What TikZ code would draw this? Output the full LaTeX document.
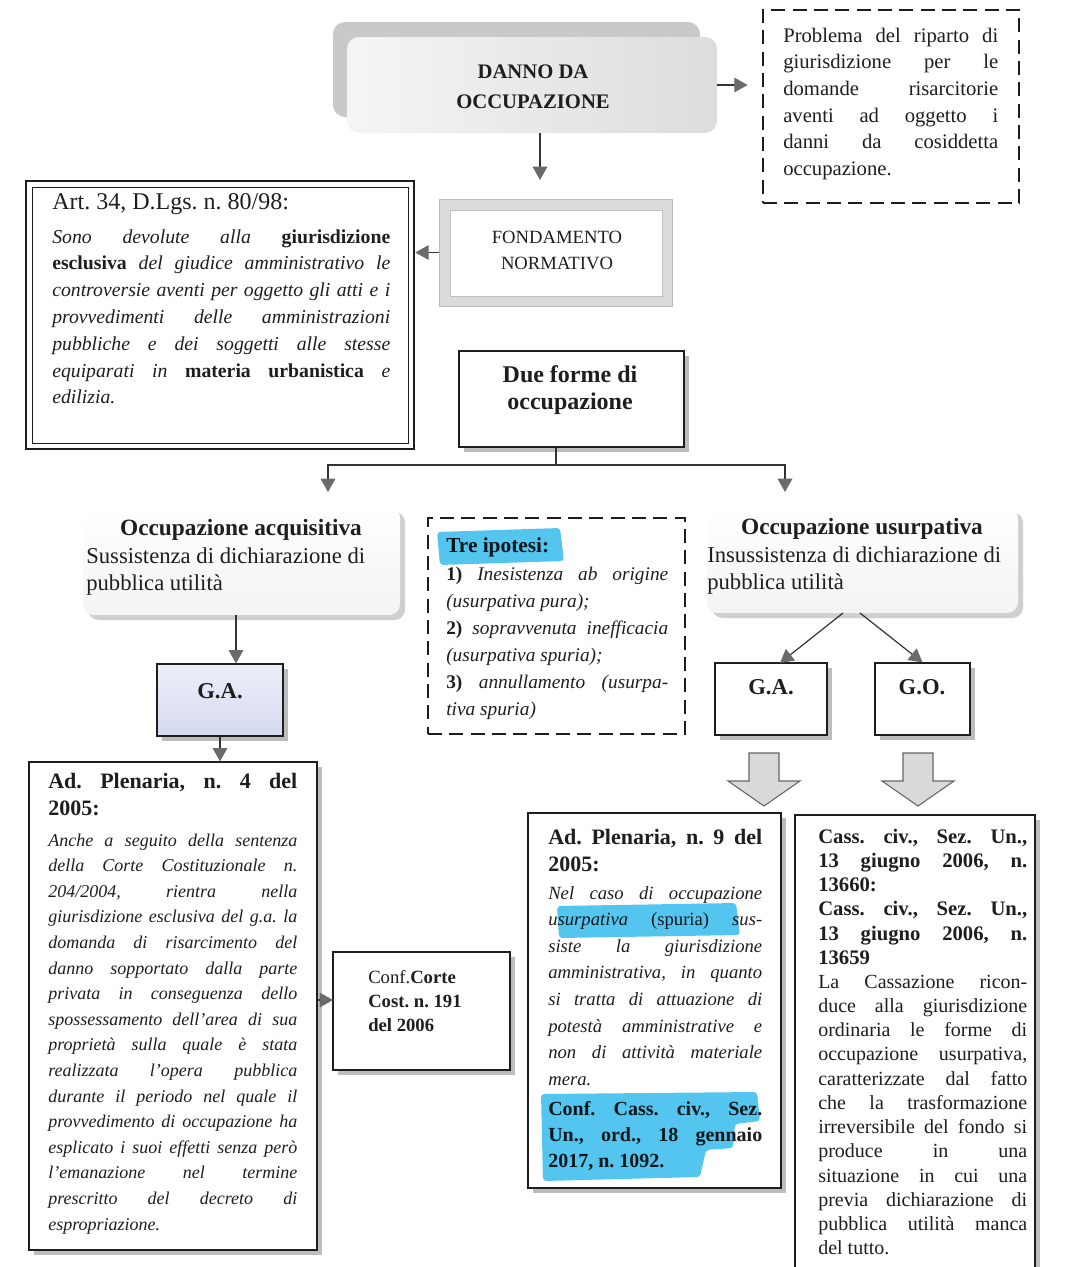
\documentclass[tikz,border=0pt]{standalone}
\usepackage{fontspec}
\setmainfont{Liberation Serif}
\usetikzlibrary{arrows.meta,fit,shadows,calc}

\definecolor{ink}{RGB}{30,30,30}
\definecolor{hl}{RGB}{84,197,238}
\definecolor{lav}{RGB}{214,218,240}

% one justified line / one natural (last) line of a text block
\newcommand\jline[1]{\hbox to\linewidth{\spaceskip=\fontdimen2\font plus 1fil minus \fontdimen4\font\relax#1}}
\newcommand\eline[1]{\hbox{#1}}
\newcommand\fs[2]{\fontsize{#1}{#2}\selectfont}
\newcommand\bu[1]{{\upshape\bfseries #1}}
\frenchspacing

\tikzset{
  conn/.style={draw=black!80, line width=0.9pt},
  arr/.style={conn, -{Triangle[width=11pt,length=10pt,color=black!58]}},
  frame/.style={inner sep=0pt},
  box/.style={frame, draw=ink, line width=0.9pt, fill=white},
  shadowed/.style={drop shadow={shadow xshift=3.5pt, shadow yshift=-3.5pt, fill=gray!52, opacity=1}},
  dashbox/.style={frame, draw=ink, line width=1.1pt, dash pattern=on 10.5pt off 5.5pt},
  softbox/.style={frame, rounded corners=8pt, top color=white, bottom color=gray!9, draw=none},
  softshadow/.style={frame, rounded corners=8pt, fill=gray!38, draw=none},
  txt/.style={anchor=base west, inner sep=0pt, text=ink},
  ctxt/.style={anchor=base, inner sep=0pt, text=ink},
  marker/.style={fill=hl, rounded corners=2.5pt},
  pics/blockdown/.style={code={
    \draw[fill=gray!30, draw=black!60, line width=0.8pt, line join=miter]
      (-15,0) -- (15,0) -- (15,28) -- (36,28) -- (0,53) -- (-36,28) -- (-15,28) -- cycle;}}
}

\begin{document}
\begin{tikzpicture}[x=0.75pt,y=-0.75pt]
\path[use as bounding box, fill=white] (0,0) rectangle (1071,1267);

% ---- title ----
\node[frame, fit={(333,22)(700,117)}, rounded corners=9pt, fill=gray!42] (dannoback) {};
\node[frame, fit={(347,37)(717,133)}, rounded corners=9pt, left color=gray!8, right color=gray!27] (danno) {};
\node[ctxt] (dannotxt) at (533,78) {\parbox[t]{200pt}{\centering\fs{15.5}{22.5}\bfseries DANNO DA\\OCCUPAZIONE}};

% ---- problem statement ----
\node[dashbox, fit={(763,10)(1019,203)}] (prob) {};
\node[txt] (probtxt) at (783,42) {\parbox[t]{161.25pt}{\fs{15.5}{20}%
  \jline{Problema del riparto di}%
  \jline{giurisdizione per le}%
  \jline{domande risarcitorie}%
  \jline{aventi ad oggetto i}%
  \jline{danni da cosiddetta}%
  \eline{occupazione.}}};
\draw[arr, shorten >=11pt] (danno.east) -- (danno.east -| prob.west);

% ---- legal basis ----
\coordinate (dn) at (540,180);
\draw[arr] (danno.south -| dn) -- (dn);
\node[frame, fit={(439,199)(672,306)}, fill=gray!28, draw=gray!55, line width=0.6pt] (fond) {};
\node[frame, fit={(450,210)(662,296)}, fill=white, draw=gray!50, line width=0.5pt] (fondin) {};
\node[ctxt] (fondtxt) at (557,243) {\parbox[t]{150pt}{\centering\fs{14}{19.5}FONDAMENTO\\NORMATIVO}};

\node[frame, fit={(26,181)(414,449)}, draw=ink, line width=2pt, fill=white] (art) {};
\node[frame, fit={(32,187)(408,443)}, draw=ink, line width=0.6pt] (artin) {};
\node[txt] (arthead) at (52,209) {\fs{18}{20}Art. 34, D.Lgs. n. 80/98:};
\node[txt] (arttxt) at (52,243) {\parbox[t]{253.5pt}{\fs{14.8}{20.1}\itshape
  \jline{Sono devolute alla \bu{giurisdizione}}%
  \jline{\bu{esclusiva} del giudice amministrativo le}%
  \jline{controversie aventi per oggetto gli atti e i}%
  \jline{provvedimenti delle amministrazioni}%
  \jline{pubbliche e dei soggetti alle stesse}%
  \jline{equiparati in \bu{materia urbanistica} e}%
  \eline{edilizia.}}};
\draw[arr] (fond.west) -- (fond.west -| art.east);

% ---- two forms ----
\node[box, shadowed, fit={(459,351)(684,447)}] (due) {};
\node[ctxt] (duetxt) at (570,382) {\parbox[t]{160pt}{\centering\fs{18}{20.25}\bfseries Due forme di\\occupazione}};
\coordinate (split) at (556,465);
\coordinate (lt) at (328,492);
\coordinate (rt) at (785,492);
\draw[conn] (due.south -| split) -- (split);
\draw[arr] (split) -| (lt);
\draw[arr] (split) -| (rt);

% ---- acquisitive occupation ----
\node[softshadow, fit={(88,512)(405,620)}] (acqsh) {};
\node[softbox, fit={(83,507)(400,615)}] (acq) {};
\node[ctxt] (acqhead) at (241,535) {\fs{17.5}{20}\bfseries Occupazione acquisitiva};
\node[txt] (acqtxt) at (86,563) {\parbox[t]{300pt}{\fs{17}{20.25}%
  \eline{Sussistenza di dichiarazione di}%
  \eline{pubblica utilità}}};

\node[frame, shadowed, draw=ink, line width=0.9pt, top color=lav!45, bottom color=lav, fit={(157,664)(283,736)}] (gal) {};
\node[ctxt] (galtxt) at (220,698) {\fs{17}{20}\bfseries G.A.};
\coordinate (acqout) at (236,615);
\draw[arr] (acqout) -- (acqout |- gal.north);

\node[box, shadowed, fit={(29,762)(317,1250)}] (adp4) {};
\draw[arr] (gal.south) -- (gal.south |- adp4.north);
\node[txt] (adp4head) at (48,788) {\parbox[t]{186.75pt}{\fs{16.5}{20.25}\bfseries
  \jline{Ad. Plenaria, n. 4 del}%
  \eline{2005:}}};
\node[txt] (adp4txt) at (48,846) {\parbox[t]{186.75pt}{\fs{13.5}{19.2}\itshape
  \jline{Anche a seguito della sentenza}%
  \jline{della Corte Costituzionale n.}%
  \jline{204/2004, rientra nella}%
  \jline{giurisdizione esclusiva del g.a. la}%
  \jline{domanda di risarcimento del}%
  \jline{danno sopportato dalla parte}%
  \jline{privata in conseguenza dello}%
  \jline{spossessamento dell’area di sua}%
  \jline{proprietà sulla quale è stata}%
  \jline{realizzata l’opera pubblica}%
  \jline{durante il periodo nel quale il}%
  \jline{provvedimento di occupazione ha}%
  \jline{esplicato i suoi effetti senza però}%
  \jline{l’emanazione nel termine}%
  \jline{prescritto del decreto di}%
  \eline{espropriazione.}}};

\node[box, shadowed, fit={(333,952)(510,1070)}] (conf) {};
\node[txt] (conftxt) at (368,983) {\parbox[t]{110pt}{\fs{14}{18}%
  \eline{Conf.\textbf{Corte}}%
  \eline{\textbf{Cost. n. 191}}%
  \eline{\textbf{del 2006}}}};
\coordinate (cf) at (333,1000);
\draw[arr] (adp4.east |- cf) -- (cf);

% ---- three hypotheses ----
\node[dashbox, fit={(428,518)(685,734)}] (tre) {};
\node[txt] (trehead) at (446,552) {\fs{16}{20}\bfseries Tre ipotesi:};
\node[txt] (tretxt) at (446,580) {\parbox[t]{166.5pt}{\fs{14.5}{20.25}%
  \jline{\textbf{1)} \textit{Inesistenza ab origine}}%
  \eline{\textit{(usurpativa pura);}}%
  \jline{\textbf{2)} \textit{sopravvenuta inefficacia}}%
  \eline{\textit{(usurpativa spuria);}}%
  \jline{\textbf{3)} \textit{annullamento (usurpa-}}%
  \eline{\textit{tiva spuria)}}}};

% ---- usurpative occupation ----
\node[softshadow, fit={(712,512)(1023,618)}] (ussh) {};
\node[softbox, fit={(707,507)(1018,613)}] (us) {};
\node[ctxt] (ushead) at (862,534) {\fs{17.5}{20}\bfseries Occupazione usurpativa};
\node[txt] (ustxt) at (707,562) {\parbox[t]{300pt}{\fs{17}{20.25}%
  \eline{Insussistenza di dichiarazione di}%
  \eline{pubblica utilità}}};

\node[box, shadowed, fit={(715,663)(827,735)}] (gar) {};
\node[ctxt] (gartxt) at (771,694) {\fs{17}{20}\bfseries G.A.};
\node[box, shadowed, fit={(875,663)(970,735)}] (gor) {};
\node[ctxt] (gortxt) at (922,694) {\fs{17}{20}\bfseries G.O.};
\coordinate (us1) at (843,613);
\coordinate (us2) at (860,613);
\coordinate (garin) at (780,663);
\draw[arr] (us1) -- (garin);
\draw[arr] (us2) -- (gor.north);

\pic at (764,753) {blockdown};
\pic at (918,753) {blockdown};

\node[box, shadowed, fit={(528,813)(781,1188)}] (adp9) {};
\node[txt] (adp9head) at (548,844) {\parbox[t]{160.5pt}{\fs{16.5}{20.25}\bfseries
  \jline{Ad. Plenaria, n. 9 del}%
  \eline{2005:}}};
\node[txt] (adp9txt) at (548,899) {\parbox[t]{160.5pt}{\fs{14}{19.95}\itshape
  \jline{Nel caso di occupazione}%
  \jline{usurpativa {\upshape(spuria)} sus-}%
  \jline{siste la giurisdizione}%
  \jline{amministrativa, in quanto}%
  \jline{si tratta di attuazione di}%
  \jline{potestà amministrative e}%
  \jline{non di attività materiale}%
  \eline{mera.}}};
\node[txt] (adp9conf) at (548,1115) {\parbox[t]{160.5pt}{\fs{15}{19.5}\bfseries
  \jline{Conf. Cass. civ., Sez.}%
  \jline{Un., ord., 18 gennaio}%
  \eline{2017, n. 1092.}}};

\node[box, shadowed, fit={(795,815)(1035,1285)}] (cass) {};
\node[txt] (casshead) at (818,843) {\parbox[t]{156.75pt}{\fs{15.5}{18.2}\bfseries
  \jline{Cass. civ., Sez. Un.,}%
  \jline{13 giugno 2006, n.}%
  \eline{13660:}%
  \jline{Cass. civ., Sez. Un.,}%
  \jline{13 giugno 2006, n.}%
  \eline{13659}}};
\node[txt] (casstxt) at (818,988) {\parbox[t]{156.75pt}{\fs{15}{18.2}%
  \jline{La Cassazione ricon-}%
  \jline{duce alla giurisdizione}%
  \jline{ordinaria le forme di}%
  \jline{occupazione usurpativa,}%
  \jline{caratterizzate dal fatto}%
  \jline{che la trasformazione}%
  \jline{irreversibile del fondo si}%
  \jline{produce in una}%
  \jline{situazione in cui una}%
  \jline{previa dichiarazione di}%
  \jline{pubblica utilità manca}%
  \eline{del tutto.}}};

% ---- highlighter strokes ----
\begin{scope}[blend mode=multiply]
  \fill[marker] (437,532) -- (560,528) -- (564,561) -- (440,565) -- cycle;
  \fill[marker] (557,906) -- (736,903) -- (740,935) -- (559,938) -- cycle;
  \fill[marker] (541,1094) -- (757,1092) -- (760,1121) -- (735,1124)
        -- (733,1148) -- (706,1150) -- (700,1177) -- (543,1181) -- cycle;
\end{scope}
\end{tikzpicture}
\end{document}
